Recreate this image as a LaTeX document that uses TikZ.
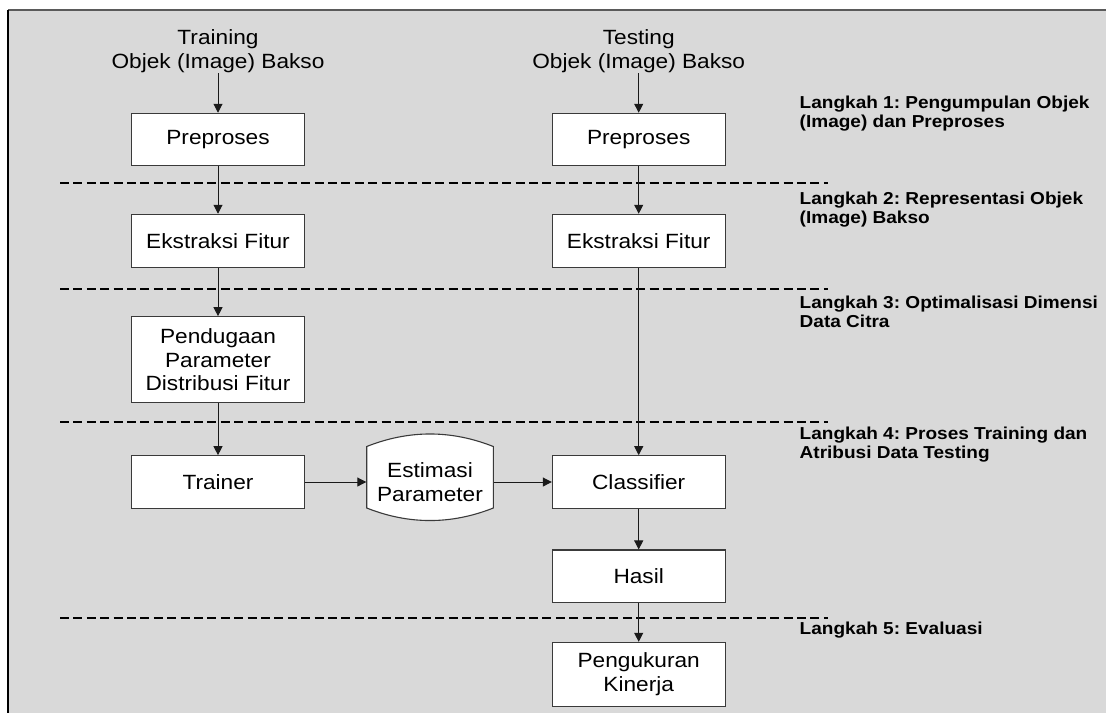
\documentclass[tikz,border=0pt]{standalone}
\usepackage{fontspec}
\setmainfont{Liberation Sans}[FakeStretch=1.1]
\usetikzlibrary{arrows.meta,calc}
\definecolor{bg}{HTML}{D9D9D9}
\definecolor{edge}{HTML}{3A3A3A}
\definecolor{arrowcol}{HTML}{1A1A1A}
\definecolor{topline}{HTML}{5A5A5A}
\newcommand{\twoline}[2]{\vtop{\baselineskip=9.5pt\lineskiplimit=-20pt\hbox{#1}\hbox{#2}}}
\frenchspacing
\begin{document}
\begin{tikzpicture}[x=0.5pt,y=-0.5pt,
  box/.style={draw=edge, line width=0.55pt, fill=white, minimum width=86.35pt, inner sep=0pt, align=center, font=\fontsize{10.3}{11.75}\selectfont},
  lbl/.style={inner sep=0pt, align=center, font=\fontsize{10.3}{12.15}\selectfont},
  steplbl/.style={anchor=base west, inner sep=0pt, font=\fontsize{8.65}{9.5}\selectfont\bfseries\frenchspacing},
  arr/.style={draw=arrowcol, line width=0.5pt, -{Triangle[length=4.5pt,width=4.5pt]}},
  sepline/.style={line width=1pt, dash pattern=on 4.5pt off 2.2pt}
]
\useasboundingbox (0,0) rectangle (1106,713);
\fill[bg] (8,10) rectangle (1106,713);
\draw[topline, line width=0.6pt] (8,10) -- (1106,10);
\draw[black, line width=0.7pt] (8,10) -- (8,713);

% separators
\draw[sepline] (60,183.3) -- (828,183.3);
\draw[sepline] (60,289.3) -- (828,289.3);
\draw[sepline] (60,421.7) -- (828,421.7);
\draw[sepline] (60,617.8) -- (828,617.8);

% step labels
\node[steplbl] (s1) at (799.3,108) {\twoline{Langkah 1: Pengumpulan Objek}{(Image) dan Preproses}};
\node[steplbl] (s2) at (799.3,204.5) {\twoline{Langkah 2: Representasi Objek}{(Image) Bakso}};
\node[steplbl] (s3) at (799.3,308) {\twoline{Langkah 3: Optimalisasi Dimensi}{Data Citra}};
\node[steplbl] (s4) at (799.3,439.5) {\twoline{Langkah 4: Proses Training dan}{Atribusi Data Testing}};
\node[steplbl] (s5) at (799.3,634.5) {Langkah 5: Evaluasi};

% input labels
\node[lbl] (train) at (218,51) {Training\\Objek (Image) Bakso};
\node[lbl] (test) at (638.7,51) {Testing\\Objek (Image) Bakso};

% boxes
\node[box, minimum height=26.2pt] (pre1) at (218,139.5) {Preproses};
\node[box, minimum height=26.2pt] (pre2) at (638.7,139.5) {Preproses};
\node[box, minimum height=26.5pt] (ek1) at (218,240.8) {Ekstraksi Fitur};
\node[box, minimum height=26.5pt] (ek2) at (638.7,240.8) {Ekstraksi Fitur};
\node[box, minimum height=43pt] (pend) at (218,359.7) {Pendugaan\\Parameter\\Distribusi Fitur};
\node[box, minimum height=26.3pt] (trainer) at (218,482) {Trainer};
\node[box, minimum height=26.3pt] (clf) at (638.7,482) {Classifier};
\node[box, minimum height=26.2pt] (hasil) at (638.7,576.2) {Hasil};
\node[box, minimum height=31.85pt, font=\fontsize{10.3}{12.15}\selectfont] (ukur) at (638.7,674.2) {Pengukuran\\Kinerja};

% stored data shape
\path[draw=edge, fill=white, line width=0.55pt]
  (366.7,446.5) .. controls (408.9,429.8) and (451.1,429.8) .. (493.3,446.5)
  -- (493.3,508) .. controls (451.1,524.7) and (408.9,524.7) .. (366.7,508) -- cycle;
\node[lbl, minimum width=63.3pt, font=\fontsize{10.3}{11.65}\selectfont] (est) at (430,482) {Estimasi\\Parameter};

% connectors
\draw[arr] (train) -- (pre1);
\draw[arr] (pre1) -- (ek1);
\draw[arr] (ek1) -- (pend);
\draw[arr] (pend) -- (trainer);
\draw[arr] (test) -- (pre2);
\draw[arr] (pre2) -- (ek2);
\draw[arr] (ek2) -- (clf);
\draw[arr] (trainer) -- (est);
\draw[arr] (est) -- (clf);
\draw[arr] (clf) -- (hasil);
\draw[arr] (hasil) -- (ukur);
\end{tikzpicture}
\end{document}
